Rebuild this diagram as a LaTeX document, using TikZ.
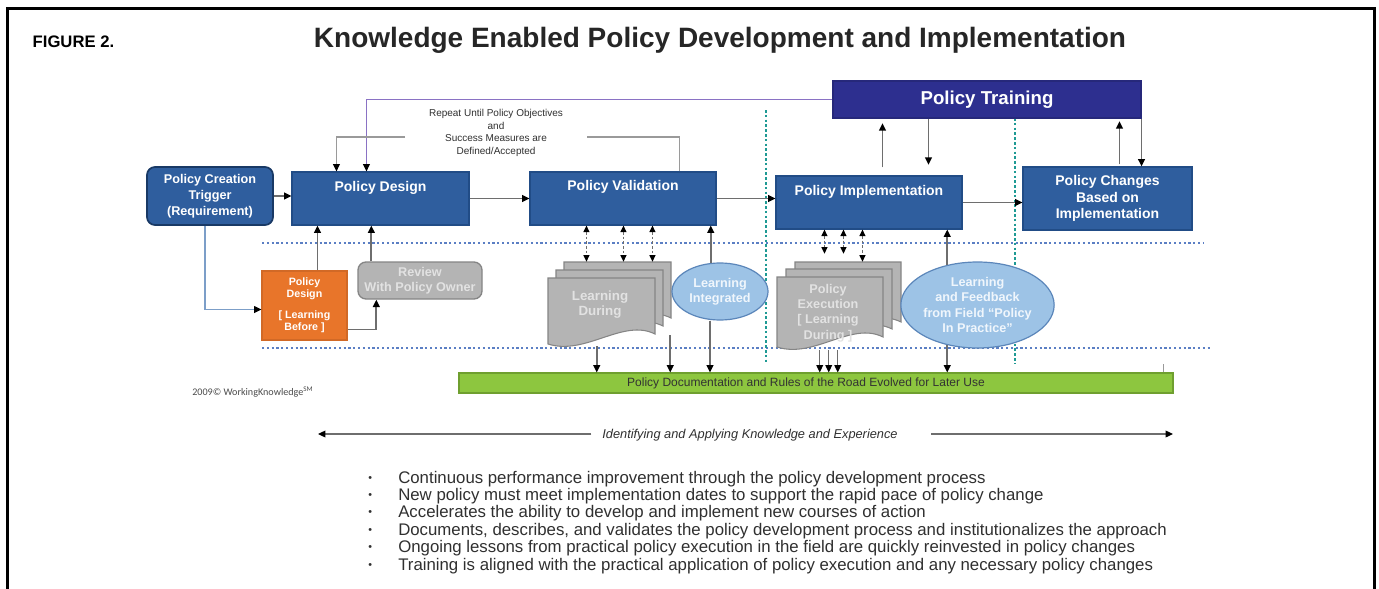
\documentclass[tikz,border=0pt]{standalone}
\usepackage{fontspec}
\setmainfont{Liberation Sans}
\newfontfamily\calfont{Carlito}
\usetikzlibrary{arrows.meta,shapes.geometric,calc}

\definecolor{boxblue}{HTML}{2F5E9E}
\definecolor{boxbluedk}{HTML}{214C86}
\definecolor{trainblue}{HTML}{2D2F8F}
\definecolor{orangebox}{HTML}{E8752A}
\definecolor{greyfill}{HTML}{B4B4B4}
\definecolor{greyedge}{HTML}{858585}
\definecolor{greytext}{HTML}{E2E2E2}
\definecolor{skyfill}{HTML}{9DC3E6}
\definecolor{skyedge}{HTML}{5B86BA}
\definecolor{skytext}{HTML}{F0F6FC}
\definecolor{limefill}{HTML}{8DC63F}
\definecolor{limeedge}{HTML}{6F9F2F}
\definecolor{linegrey}{HTML}{6E6E6E}
\definecolor{loopgrey}{HTML}{9A9A9A}
\definecolor{loopviolet}{HTML}{8A72C4}
\definecolor{dotblue}{HTML}{5B7FC4}
\definecolor{dotteal}{HTML}{1F9A94}
\definecolor{bodytext}{HTML}{303030}

\tikzset{
  bluebox/.style={draw=boxbluedk, line width=0.8pt, fill=boxblue, text=white,
    align=center, inner sep=0pt},
  boxlabel/.style={text=white, font=\bfseries\fontsize{10.5}{12.5}\selectfont, inner sep=0pt},
  sheetlabel/.style={text=greytext, align=center, inner sep=0pt},
  skyoval/.style={ellipse, draw=skyedge, line width=0.9pt, fill=skyfill, text=skytext,
    align=center, inner sep=0pt, font=\bfseries\fontsize{9.5}{11.6}\selectfont},
  docst/.style={draw=greyedge, line width=0.8pt, fill=greyfill},
  pics/docsheet/.style 2 args={code={
    \draw[docst] (0,0) -- (#1,0) -- (#1,#2-14)
      .. controls (0.7*#1,#2-30) and (0.35*#1,#2+8) .. (0,#2-4) -- cycle;}},
  tip/.style={-{Triangle[length=5.5pt,width=5pt,color=black]}},
  arr/.style={draw=linegrey, line width=1.3pt, tip},
  dbl/.style={draw=linegrey, line width=1pt, dash pattern=on 2pt off 1.5pt,
    {Triangle[length=5pt,width=4.5pt,color=black]}-{Triangle[length=5pt,width=4.5pt,color=black]}},
  loopline/.style={draw=loopgrey, line width=1.1pt},
  sepblue/.style={draw=dotblue, line width=1.8pt, dash pattern=on 1.6pt off 2pt},
  septeal/.style={draw=dotteal, line width=2.2pt, dash pattern=on 2pt off 1.6pt},
  ghost/.style={inner sep=0pt, minimum width=#1},
}

\begin{document}
\begin{tikzpicture}[x=0.75pt, y=-0.75pt]
% page and frame
\fill[white] (0,0) rectangle (1379,589);
\useasboundingbox (0,0) rectangle (1379,589);
\draw[line width=2.25pt, line join=miter] (7,589) -- (7,8.5) -- (1374,8.5) -- (1374,589);

% headings
\node[anchor=base west, font=\bfseries\fontsize{12.5}{14}\selectfont] (fig) at (28,47) {FIGURE 2.};
\node[anchor=base, font=\bfseries\fontsize{21}{25}\selectfont, text=black!85] (title) at (720,47)
  {Knowledge Enabled Policy Development and Implementation};

% separators
\draw[sepblue] (262,243) -- (1203,243);
\draw[sepblue] (262,348) -- (1212,348);
\draw[septeal] (766,110) -- (766,364);
\draw[septeal] (1015,118) -- (1015,364);

% main process boxes
\node[bluebox, rounded corners=6pt, line width=1.3pt, draw=boxbluedk!75!black,
      minimum width=94.5pt, minimum height=43.5pt,
      font=\bfseries\fontsize{9.5}{12}\selectfont] (pct) at (210,196)
  {Policy Creation\\Trigger\\(Requirement)};
\node[bluebox, minimum width=132.75pt, minimum height=39.75pt] (pd) at (380.5,198.5) {};
\node[boxlabel] (pdl) at (380.5,188) {Policy Design};
\node[bluebox, minimum width=139.5pt, minimum height=39.75pt] (pv) at (623,198.5) {};
\node[boxlabel] (pvl) at (623,187) {Policy Validation};
\node[bluebox, minimum width=139.5pt, minimum height=39.75pt] (pi) at (869,202.5) {};
\node[boxlabel] (pil) at (869,192) {Policy Implementation};
\node[bluebox, minimum width=126.75pt, minimum height=47.25pt,
      font=\bfseries\fontsize{10.5}{12.5}\selectfont] (pc) at (1107.5,198.5)
  {Policy Changes\\Based on\\Implementation};
\node[bluebox, fill=trainblue, draw=trainblue!85!black, minimum width=231pt, minimum height=27.75pt] (pt) at (987,99.5) {};
\node[boxlabel, font=\bfseries\fontsize{14}{16}\selectfont] (ptl) at (987,100) {Policy Training};

% loop note
\node[align=center, inner sep=0pt, text=bodytext, font=\fontsize{7.5}{9.6}\selectfont] (rpt) at (496,133)
  {Repeat Until Policy Objectives\\and\\Success Measures are\\Defined/Accepted};

% lower row
\node[fill=orangebox, draw=orangebox!90!black, line width=0.8pt, text=white, align=center,
      inner sep=0pt, minimum width=63.75pt, minimum height=51.75pt,
      font=\bfseries\fontsize{8}{9}\selectfont] (or) at (304.5,305.5)
  {Policy\\Design\\[7pt]{[} Learning\\Before ]};
\node[fill=greyfill, draw=greyedge, line width=1pt, rounded corners=6pt, text=greytext,
      align=center, inner sep=0pt, minimum width=93pt, minimum height=27.75pt,
      font=\bfseries\fontsize{9.5}{11}\selectfont] (rev) at (420,280.5)
  {Review\\With Policy Owner};

% document stacks
\pic at (564,262) {docsheet={107}{70}};
\pic at (556,270) {docsheet={107}{70}};
\pic at (548,278) {docsheet={107}{70}};
\node[ghost=80.25pt, minimum height=54pt] (ldb) at (617.5,298) {};
\node[ghost=80.25pt, minimum height=51pt] (ldf) at (601.5,312) {};
\node[sheetlabel, font=\bfseries\fontsize{10}{11.25}\selectfont] (ldt) at (600,304.5) {Learning\\During};

\pic at (795,262) {docsheet={106}{74}};
\pic at (786,269) {docsheet={106}{74}};
\pic at (777,277) {docsheet={106}{74}};
\node[ghost=79.5pt, minimum height=54pt] (peb) at (848,298) {};
\node[ghost=79.5pt, minimum height=54.75pt] (pef) at (830,313.5) {};
\node[sheetlabel, font=\bfseries\fontsize{9.5}{11.6}\selectfont] (pet) at (828,313)
  {Policy\\Execution\\{[} Learning\\During ]};

\node[skyoval, minimum width=72pt, minimum height=42.75pt] (li) at (720,291.5) {Learning\\Integrated};
\node[skyoval, minimum width=101.25pt, minimum height=64.5pt] (lf) at (977.5,305)
  {Learning\\and Feedback\\from Field “Policy\\In Practice”};

% knowledge base bar
\node[fill=limefill, draw=limeedge, line width=0.8pt, inner sep=0pt,
      minimum width=535.5pt, minimum height=15pt] (gr) at (816,383) {};
\node[inner sep=0pt, text=black!80, font=\fontsize{9}{10}\selectfont] (grt) at (806,383)
  {Policy Documentation and Rules of the Road Evolved for Later Use};

\node[anchor=west, inner sep=0pt, text=black!70, font=\calfont\fontsize{7.6}{10}\selectfont] (cpy) at (192,392)
  {2009© WorkingKnowledge\textsuperscript{SM}};

% main flow
\draw[arr] (pct.east) -- (pct.east -| pd.west);
\draw[arr] (pd.east) -- (pv.west);
\draw[arr] (pv.east) -- (pv.east -| pi.west);
\draw[arr] (pi.east) -- (pi.east -| pc.west);

% training links
\draw[arr, shorten <=6pt, shorten >=3.5pt] ($(pi.north west)+(107,0)$) coordinate (u1) -- (u1 |- pt.south);
\draw[arr, shorten >=8pt] ($(pt.south west)+(96,0)$) coordinate (d1) -- (d1 |- pi.north);
\draw[arr, shorten >=2pt, shorten <=1.5pt] ($(pc.north west)+(97,0)$) coordinate (u2) -- (u2 |- pt.south);
\draw[arr] (pt.south east) -- (pt.south east |- pc.north);

% iteration loops
\draw[draw=loopviolet, line width=1.1pt, tip] (pt.west) -| ($(pd.north west)+(75,0)$);
\coordinate (g1) at (405,137);
\coordinate (g2) at (587,137);
\draw[loopline] ($(pv.north west)+(150,0)$) |- (g2);
\draw[loopline, tip] (g1) -| ($(pd.north west)+(45,0)$);

% learning before
\draw[draw=skyedge!80, line width=1.1pt, tip] ($(pct.south west)+(59,0)$) |- ($(or.west)+(0,4)$);
\draw[arr] ($(or.north west)+(56,0)$) coordinate (o1) -- (o1 |- pd.south);
\draw[arr] ($(rev.north west)+(14,0)$) coordinate (r1) -- (r1 |- pd.south);
\draw[arr] ($(or.south east)+(0,-11)$) -| ($(rev.south west)+(19,0)$);

% validation exchanges
\foreach \o in {57,94,123}
  \draw[dbl] ($(pv.south west)+(\o,0)$) coordinate (t) -- (t |- ldb.north);
\draw[arr] (li.108) -- (li.108 |- pv.south);
\draw[arr] ($(ldf.south west)+(49,0)$) coordinate (t1) -- (t1 |- gr.north);
\draw[arr] ($(ldb.south east)+(-1,1)$) coordinate (t2) -- (t2 |- gr.north);
\draw[arr] ($(li.south)+(-10,0)$) coordinate (t3) -- (t3 |- gr.north);

% implementation exchanges
\draw[dbl, shorten >=6pt] ($(pi.south west)+(49,0)$) coordinate (e1) -- (e1 |- peb.north);
\draw[dbl, shorten >=6pt] ($(pi.south west)+(68,0)$) coordinate (e2) -- (e2 |- peb.north);
\draw[dbl] ($(pi.south west)+(87,0)$) coordinate (e3) -- (e3 |- peb.north);
\draw[arr] (lf.127) -- (lf.127 |- pi.south);
\foreach \o in {43,52,61}
  \draw[arr, line width=1pt] ($(pef.south west)+(\o,0)$) coordinate (t) -- (t |- gr.north);
\draw[arr] (lf.233) -- (lf.233 |- gr.north);
\coordinate (tk) at (1163,364);
\draw[draw=loopgrey, line width=0.6pt] (tk) -- (tk |- gr.north);

% knowledge axis
\node[inner sep=3pt, text=bodytext, font=\itshape\fontsize{9.6}{11}\selectfont] (idt) at (750,435)
  {Identifying and Applying Knowledge and Experience};
\coordinate (axl) at (318,434);
\coordinate (axr) at (1173,434);
\draw[draw=linegrey, line width=0.9pt, tip, shorten <=5pt] (idt.west |- axl) -- (axl);
\draw[draw=linegrey, line width=0.9pt, tip, shorten <=22pt] (idt.east |- axr) -- (axr);

% summary points
\foreach \i/\t in {
  1/{Continuous performance improvement through the policy development process},
  2/{New policy must meet implementation dates to support the rapid pace of policy change},
  3/{Accelerates the ability to develop and implement new courses of action},
  4/{Documents, describes, and validates the policy development process and institutionalizes the approach},
  5/{Ongoing lessons from practical policy execution in the field are quickly reinvested in policy changes},
  6/{Training is aligned with the practical application of policy execution and any necessary policy changes}}
  \node[anchor=base west, inner sep=0pt, text=bodytext, font=\fontsize{12.6}{13}\selectfont]
    (b\i) at (368,{483+17.4*(\i-1)}) {\makebox[22.5pt][l]{\fontsize{8}{8}\selectfont\raisebox{1.5pt}{•}}\t};
\end{tikzpicture}
\end{document}
